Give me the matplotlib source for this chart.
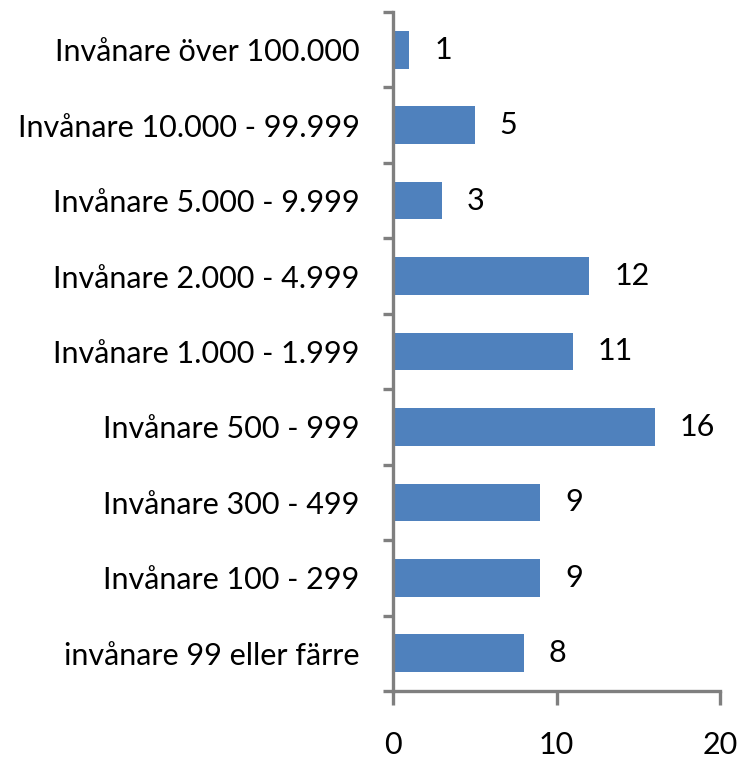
import matplotlib
matplotlib.use("Agg")
import matplotlib.pyplot as plt
import numpy as np

categories = ["invånare 99 eller färre", "Invånare 100 - 299", "Invånare 300 - 499",
              "Invånare 500 - 999", "Invånare 1.000 - 1.999", "Invånare 2.000 - 4.999",
              "Invånare 5.000 - 9.999", "Invånare 10.000 - 99.999", "Invånare över 100.000"]
values = [8, 9, 9, 16, 11, 12, 3, 5, 1]
x_ticks = [0, 10, 20]

plt.rcParams['font.family'] = ['Lato', 'DejaVu Sans']
FS = 22

fig = plt.figure(figsize=(7.41, 7.61), dpi=100)
ax = fig.add_axes([393/741, 1-691/761, (720-393)/741, (691-12)/761])

n = len(categories)
y = np.arange(n)
ax.barh(y, values, height=0.5, color='#4F81BD', zorder=2)
for yi, v in zip(y, values):
    ax.annotate(str(v), (v, yi), xytext=(18, 0), textcoords='offset points',
                ha='left', va='center', fontsize=FS, color='black')

ax.set_xlim(0, 20)
ax.set_ylim(-0.5, n - 0.5)
ax.set_xticks(x_ticks)
ax.set_xticklabels([str(t) for t in x_ticks], fontsize=FS)
ax.tick_params(axis='x', length=10, width=2.4, color='#7f7f7f', pad=19, direction='out')

ax.set_yticks(np.arange(-0.5, n, 1))
ax.set_yticklabels([])
ax.tick_params(axis='y', which='major', length=7, width=2.4, color='#7f7f7f', direction='out')
ax.set_yticks(y, minor=True)
ax.set_yticklabels(categories, minor=True, fontsize=FS)
ax.tick_params(axis='y', which='minor', length=0, pad=24)

for s in ['top', 'right']:
    ax.spines[s].set_visible(False)
for s in ['left', 'bottom']:
    ax.spines[s].set_color('#7f7f7f')
    ax.spines[s].set_linewidth(2.4)

fig.savefig('out.png', dpi=100)
